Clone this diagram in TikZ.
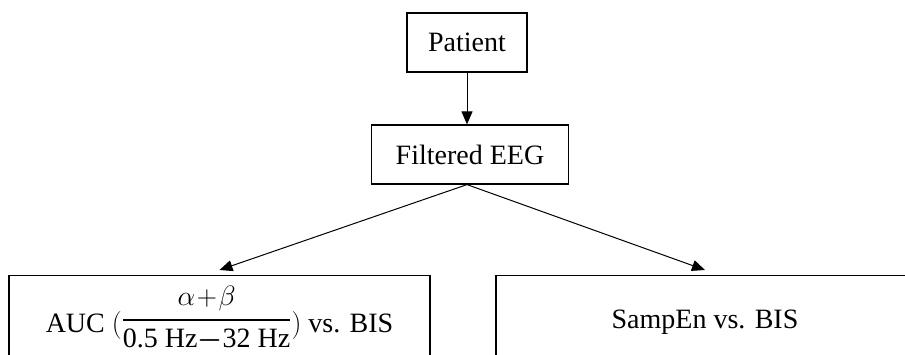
\documentclass[tikz,border=0pt]{standalone}
\usepackage{fix-cm}
\usepackage{amsmath}
\usepackage{fontspec}
\setmainfont{Liberation Serif}
\usetikzlibrary{arrows.meta}
\begin{document}
\begin{tikzpicture}[x=1pt,y=-1pt,
  box/.style={draw, line width=1.2pt, inner sep=0pt, font=\fontsize{28}{34}\selectfont},
  conn/.style={line width=1pt, -{Triangle[length=13pt,width=11pt]}},
  lbl/.style={font=\fontsize{28}{34}\selectfont, inner sep=0pt, anchor=base}]
\useasboundingbox (0,0) rectangle (905,354);
\clip (0,0) rectangle (905,354);
\node[box, minimum width=120pt, minimum height=59pt] (pat) at (467,42.5) {Patient};
\node[box, minimum width=197pt, minimum height=59pt] (feg) at (470,154.5) {Filtered EEG};
\node[box, minimum width=421pt, minimum height=130pt, anchor=north] (auc) at (219.5,275) {};
\node[box, minimum width=418pt, minimum height=130pt, anchor=north] (samp) at (705,275) {};
\node[lbl] (auct) at (219.5,332) {AUC $(\raisebox{5pt}{$\genfrac{}{}{2.6pt}{0}{\alpha\!+\!\beta}{\mbox{0.5 Hz}{\boldsymbol{-}}\mbox{32 Hz}}$})$ vs. BIS};
\node[lbl] (sampt) at (705,328) {SampEn vs. BIS};
\draw[conn] (pat.south) -- (pat.south |- feg.north);
\draw[conn] (pat.south |- feg.south) -- ([yshift=5pt]auc.north);
\draw[conn] (pat.south |- feg.south) -- ([yshift=5pt]samp.north);
\end{tikzpicture}
\end{document}
